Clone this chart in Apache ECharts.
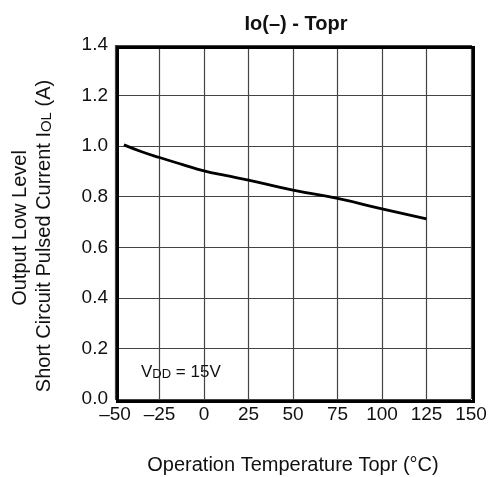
<!DOCTYPE html>
<html>
<head>
<meta charset="utf-8">
<script src="https://cdn.jsdelivr.net/npm/echarts@6/dist/echarts.min.js"></script>
<style>
html,body{margin:0;padding:0;background:#fff;}
#chart{width:493px;height:477px;}
</style>
</head>
<body>
<div id="chart"></div>
<script>
const temperature = [-45, -35, -25, -12, 0, 12, 25, 50, 75, 100, 125];
const currentIOL = [1.005, 0.978, 0.955, 0.927, 0.902, 0.884, 0.866, 0.826, 0.793, 0.752, 0.712];
const xTicks = [-50, -25, 0, 25, 50, 75, 100, 125, 150];
const yTicks = [0.0, 0.2, 0.4, 0.6, 0.8, 1.0, 1.2, 1.4];
const titleText = 'Io(–) - Topr';
const xName = 'Operation Temperature Topr (°C)';
const yNameLine1 = 'Output Low Level';
const yNameLine2 = '{n|Short Circuit Pulsed Current I}{s|OL}{n| (A)}';
const noteText = '{n|V}{s|DD}{n| = 15V}';

const font = '"Liberation Sans", Arial, Helvetica, sans-serif';
const GL = 115, GR = 471, GT = 45, GB = 399;
const chart = echarts.init(document.getElementById('chart'));
chart.setOption({
  animation: false,
  backgroundColor: '#fff',
  title: {
    text: titleText,
    left: 291, top: 9, textAlign: 'center',
    textStyle: {fontFamily: font, fontSize: 20, fontWeight: 'bold', color: '#111'}
  },
  grid: {left: GL, right: 493 - GR, top: GT, bottom: 477 - GB, containLabel: false, outerBoundsMode: 'none'},
  xAxis: {
    type: 'value', min: xTicks[0], max: xTicks[xTicks.length-1], interval: 25,
    name: xName,
    nameLocation: 'middle', nameGap: 56,
    nameTextStyle: {fontFamily: font, fontSize: 20, color: '#111'},
    axisLine: {show: false},
    axisTick: {show: false},
    axisLabel: {fontFamily: font, fontSize: 19, color: '#111', margin: 6,
      formatter: v => String(v).replace('-', '–')},
    splitLine: {show: true, lineStyle: {color: '#444', width: 1.2}}
  },
  yAxis: {
    type: 'value', min: yTicks[0], max: yTicks[yTicks.length-1], interval: 0.2,
    axisLine: {show: false},
    axisTick: {show: false},
    axisLabel: {fontFamily: font, fontSize: 19, color: '#111', margin: 7,
      formatter: v => v.toFixed(1)},
    splitLine: {show: true, lineStyle: {color: '#444', width: 1.2}}
  },
  graphic: [
    {type: 'rect', left: GL, top: GT, shape: {width: GR - GL, height: GB - GT},
     style: {fill: 'none', stroke: '#000', lineWidth: 3}, z: 10},
    {type: 'text', x: 20, y: 228, rotation: Math.PI / 2, z: 10,
     style: {text: yNameLine1, fill: '#111', font: '20px ' + font,
       textAlign: 'center', textVerticalAlign: 'middle'}},
    {type: 'text', x: 44, y: 236, rotation: Math.PI / 2, z: 10,
     style: {text: yNameLine2, fill: '#111', textAlign: 'center', textVerticalAlign: 'middle',
       rich: {
         n: {fontFamily: font, fontSize: 20, fill: '#111'},
         s: {fontFamily: font, fontSize: 15, fill: '#111', verticalAlign: 'bottom'}
       }}},
    {type: 'text', left: 141, top: 364, z: 10,
     style: {text: noteText, fill: '#111',
       rich: {
         n: {fontFamily: font, fontSize: 17, fill: '#111'},
         s: {fontFamily: font, fontSize: 13, fill: '#111', verticalAlign: 'bottom'}
       }}}
  ],
  series: [{
    type: 'line',
    data: temperature.map((t, i) => [t, currentIOL[i]]),
    smooth: true,
    showSymbol: false,
    lineStyle: {color: '#000', width: 2.8}
  }]
});
</script>
</body>
</html>
